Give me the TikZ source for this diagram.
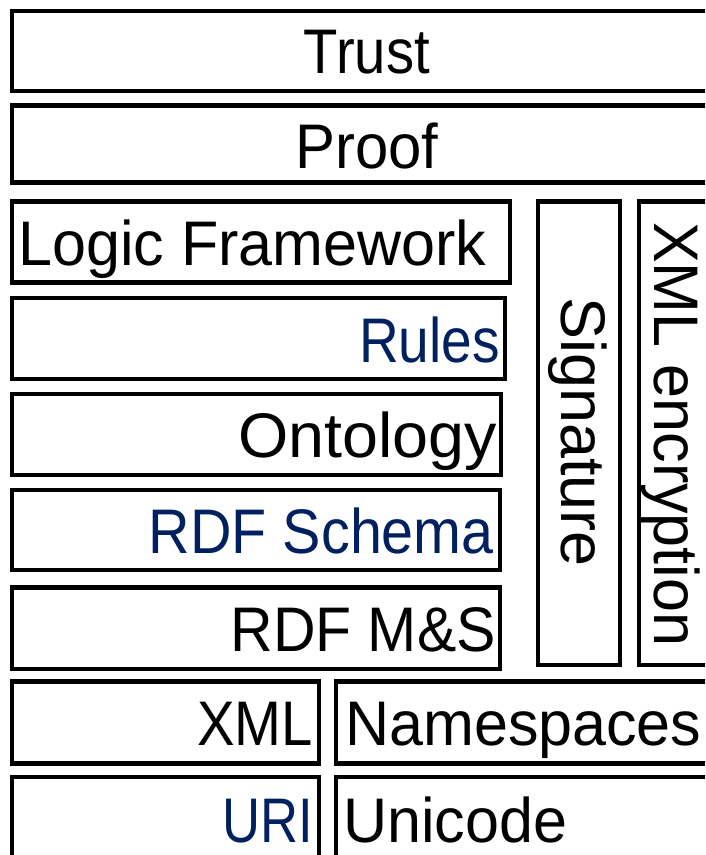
\documentclass[tikz,border=0pt]{standalone}
\usepackage{graphicx}
\usepackage{fontspec}
\setmainfont{Liberation Sans}[FakeStretch=0.95]
\definecolor{navy}{RGB}{0,32,96}
\newcommand{\sxw}[2]{\scalebox{#1}[1]{#2}}
\begin{document}
\begin{tikzpicture}[x=1pt,y=-1pt,
  layer/.style={draw=black,line width=4.5pt},
  lbl/.style={inner sep=0pt,font=\fontsize{63}{63}\selectfont},
  navytext/.style={text=navy}]
\useasboundingbox (0,0) rectangle (705,855);
\clip (0,0) rectangle (705,855);
% boxes
\draw[layer] (12,11) rectangle (725,91);
\draw[layer] (12,105.5) rectangle (725,182.5);
\draw[layer] (12,201.5) rectangle (510,282.5);
\draw[layer] (12,298) rectangle (505,379);
\draw[layer] (12,394) rectangle (501,475);
\draw[layer] (12,490) rectangle (500,570);
\draw[layer] (12,587.5) rectangle (500,669);
\draw[layer] (538,201.5) rectangle (620,665);
\draw[layer] (639,201.5) rectangle (725,665);
\draw[layer] (12,681.5) rectangle (319,763.5);
\draw[layer] (336,681.5) rectangle (725,763.5);
\draw[layer] (12,777) rectangle (319,880);
\draw[layer] (336,777) rectangle (725,880);
% labels
\node[lbl,anchor=base] (trust) at (367,73) {\sxw{0.94}{Trust}};
\node[lbl,anchor=base] (proof) at (367,168) {Proof};
\node[lbl,anchor=base west] (logic) at (18,265) {\sxw{1.02}{Logic Framework}};
\node[lbl,navytext,anchor=base east] (rules) at (500,362) {\sxw{0.92}{Rules}};
\node[lbl,anchor=base east] (onto) at (497,457) {\sxw{1.08}{Ontology}};
\node[lbl,navytext,anchor=base east] (rdfs) at (494,553) {\sxw{0.96}{RDF Schema}};
\node[lbl,anchor=base east] (rdfms) at (496,651) {\sxw{0.985}{RDF M\&S}};
\node[lbl,anchor=base east] (xml) at (313,745) {\sxw{0.94}{XML}};
\node[lbl,anchor=base west] (ns) at (345,745) {\sxw{1.02}{Namespaces}};
\node[lbl,navytext,anchor=base east] (uri) at (313,842) {\sxw{0.88}{URI}};
\node[lbl,anchor=base west] (uni) at (343,842) {\sxw{1.02}{Unicode}};
\node[lbl,rotate=-90,anchor=base] (sig) at (561,432) {\sxw{1.05}{Signature}};
\node[lbl,rotate=-90,anchor=base west] (enc) at (654,222) {\sxw{1.02}{XML encryption}};
\end{tikzpicture}
\end{document}
